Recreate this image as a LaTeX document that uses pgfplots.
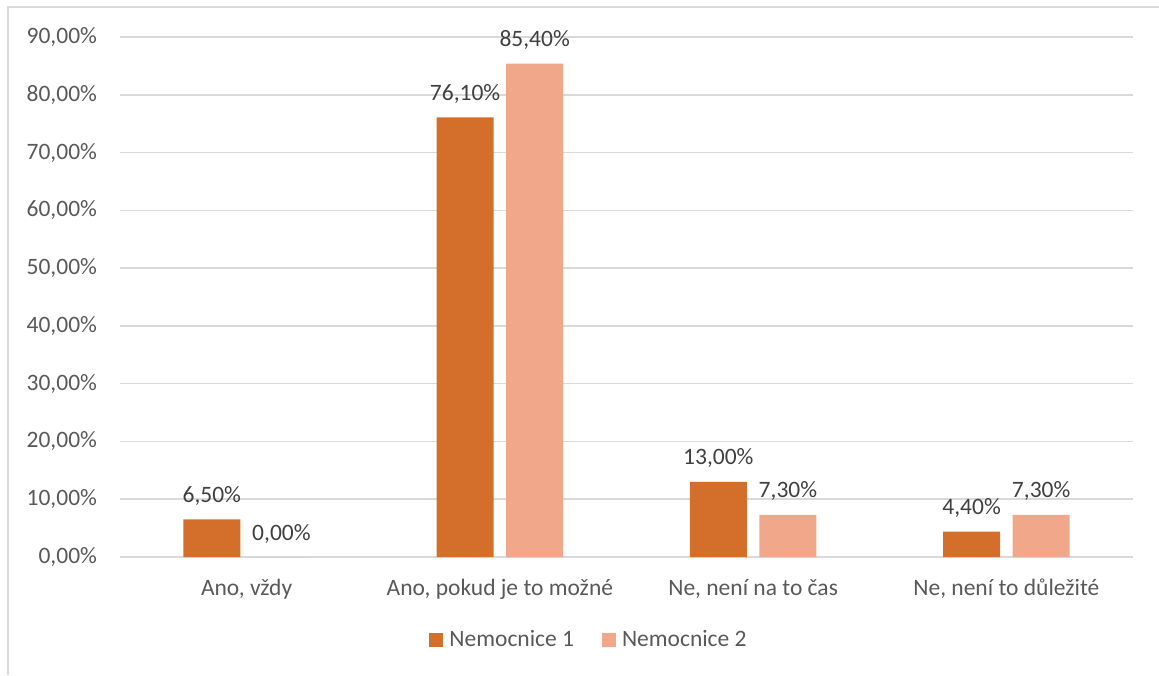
\documentclass[border=0pt]{standalone}
\usepackage{pgfplots}
\pgfplotsset{compat=1.18}
\usepackage{fontspec}
\setmainfont{Carlito}
\definecolor{darkor}{HTML}{D46F2B}
\definecolor{lightor}{HTML}{F1A88A}
\definecolor{gridc}{HTML}{D9D9D9}
\definecolor{tickc}{HTML}{595959}
\definecolor{labc}{HTML}{404040}
\begin{document}
\fontsize{23.5}{28}\selectfont
\begin{tikzpicture}
\useasboundingbox (0pt,0pt) rectangle (1159pt,675pt);
\draw[gridc, line width=2pt] (8pt,0pt) -- (8pt,668pt) -- (1160pt,668pt);
\begin{axis}[
  at={(120pt,118pt)}, anchor=south west,
  scale only axis, width=1013pt, height=520pt,
  ybar=12.6pt, bar width=57pt,
  xmin=-0.5, xmax=3.5, ymin=0, ymax=90,
  xtick={0,1,2,3},
  xticklabels={{Ano, vždy},{Ano, pokud je to možné},{Ne, není na to čas},{Ne, není to důležité}},
  ytick={0,10,...,90},
  ymajorgrids, grid style={gridc, line width=1.5pt},
  axis line style={draw=none},
  major tick length=0pt,
  /pgf/number format/assume math mode=true,
  yticklabel={\pgfmathprintnumber[fixed,fixed zerofill,precision=2,use comma]{\tick}\%},
  y tick label style={font=\fontsize{23.5}{28}\selectfont, text=tickc, anchor=east, xshift=-15pt},
  x tick label style={font=\fontsize{23.5}{28}\selectfont, text=tickc, anchor=base, yshift=-38pt},
  nodes near coords={\pgfmathprintnumber[fixed,fixed zerofill,precision=2,use comma,assume math mode=true]{\pgfplotspointmeta}\%},
  nodes near coords style={font=\fontsize{23.5}{28}\selectfont, text=labc, anchor=base, inner sep=0pt, yshift=17pt},
  legend style={at={(0.463,-0.16)}, anchor=center, draw=none, fill=none,
    font=\fontsize{23.5}{28}\selectfont, text=tickc, legend columns=2,
    /tikz/every even column/.append style={column sep=26pt}},
  legend image code/.code={\fill[#1] (0pt,-7pt) rectangle (14pt,7pt); \path (18pt,0pt);},
  legend cell align=left,
  clip=false,
]
\addplot[fill=darkor, draw=none] coordinates {(0,6.5) (1,76.1) (2,13.0) (3,4.4)};
\addplot[fill=lightor, draw=none] coordinates {(0,0.0) (1,85.4) (2,7.3) (3,7.3)};
\legend{Nemocnice 1, Nemocnice 2}
\end{axis}
\end{tikzpicture}
\end{document}
